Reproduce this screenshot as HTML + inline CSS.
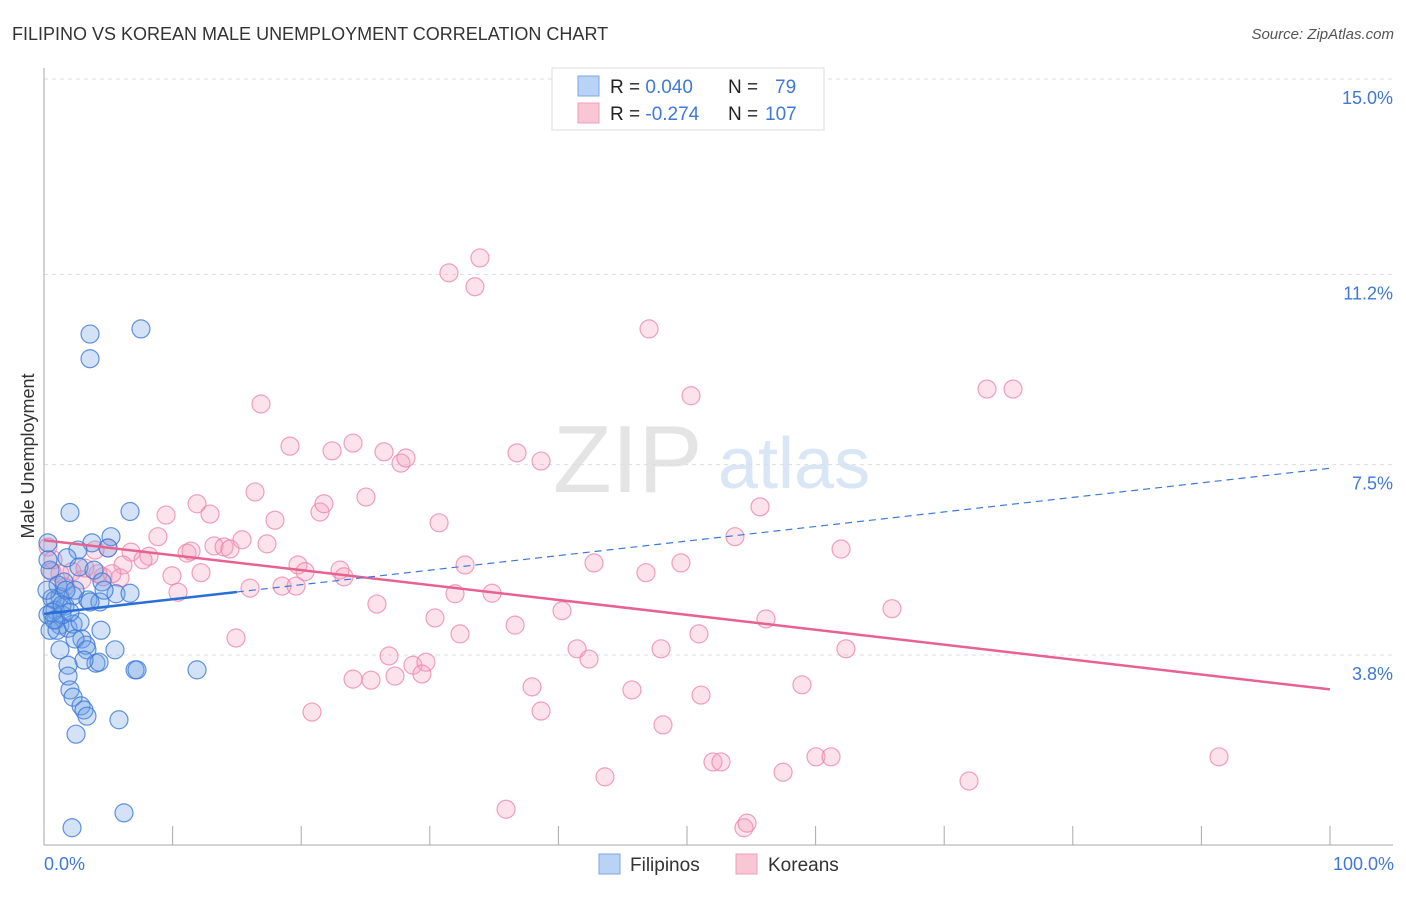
<!DOCTYPE html>
<html><head><meta charset="utf-8"><style>
body{margin:0;background:#fff;font-family:"Liberation Sans",sans-serif;}
svg text{font-family:"Liberation Sans",sans-serif;}
</style></head><body>
<svg id="chart" width="1406" height="892">
<text x="12" y="40" font-size="18" fill="#333">FILIPINO VS KOREAN MALE UNEMPLOYMENT CORRELATION CHART</text>
<text x="1394" y="39" font-size="15" fill="#555" text-anchor="end" font-style="italic">Source: ZipAtlas.com</text>
<g>
<text x="553" y="492" font-size="96" fill="#e4e4e4" font-family="Liberation Serif, serif">ZIP</text>
<text x="718" y="488" font-size="72" fill="#d8e6f6">atlas</text>
</g>
<g id="grid"></g>
<g id="axes"></g>
<g id="marks"></g>
<text transform="translate(34,456) rotate(-90)" font-size="18" fill="#333" text-anchor="middle">Male Unemployment</text>
<text x="44" y="870" font-size="18" fill="#3f78d8">0.0%</text>
<text x="1394" y="870" font-size="18" fill="#3f78d8" text-anchor="end">100.0%</text>
<g>
<rect x="552" y="68" width="272" height="62" fill="#fff" stroke="#ddd"/>
<rect x="578" y="76" width="21" height="20" fill="#b8d3f5" stroke="#7aa8e6"/>
<rect x="578" y="103" width="21" height="20" fill="#f9c6d6" stroke="#ee9cb8"/>
<text x="610" y="93" font-size="19" fill="#222">R = <tspan fill="#3f78d8"> 0.040</tspan><tspan x="728">N = </tspan><tspan x="775" fill="#3f78d8">79</tspan></text>
<text x="610" y="120" font-size="19" fill="#222">R = <tspan fill="#3f78d8">-0.274</tspan><tspan x="728">N = </tspan><tspan x="765" fill="#3f78d8">107</tspan></text>
</g>
<g>
<rect x="599" y="854" width="21" height="20" fill="#b8d3f5" stroke="#7aa8e6"/>
<text x="630" y="871" font-size="19" fill="#333">Filipinos</text>
<rect x="736" y="854" width="21" height="20" fill="#f9c6d6" stroke="#ee9cb8"/>
<text x="768" y="871" font-size="19" fill="#333">Koreans</text>
</g>
</svg>
<script>
const yTicks=[15.0,11.2,7.5,3.8];
const yTickLabels=["15.0%","11.2%","7.5%","3.8%"];
const filX=[3.58,7.54,3.58,2.02,6.69,5.21,3.73,4.98,2.64,1.79,2.72,3.89,0.31,0.47,4.51,5.60,6.69,1.24,2.26,3.42,4.35,0.62,0.86,1.63,0.31,0.93,1.24,1.87,2.26,0.47,2.80,2.95,3.27,4.43,2.41,1.24,3.34,5.52,4.04,4.28,3.11,1.87,1.87,7.08,7.23,11.9,2.02,2.26,2.88,3.11,3.34,5.83,2.49,6.22,2.18,0.86,1.09,1.56,0.23,0.62,1.40,3.58,4.67,0.31,2.41,1.71,1.01,0.78,1.40,2.02];
const filY=[10.04,10.14,9.56,6.57,6.59,6.10,5.98,5.88,5.84,5.69,5.51,5.45,5.98,5.45,5.22,4.99,5.00,4.93,4.95,4.87,4.83,4.90,4.67,4.75,4.58,4.48,4.38,4.32,4.40,4.28,4.44,4.11,3.99,4.28,4.11,3.90,3.90,3.90,3.64,3.66,3.70,3.60,3.39,3.51,3.51,3.51,3.12,2.98,2.81,2.73,2.61,2.54,2.26,0.73,0.44,4.87,5.16,5.22,5.06,4.63,4.58,4.83,5.06,5.65,5.06,5.06,4.28,4.48,4.77,4.63];
const korX=[31.49,33.90,33.51,47.05,50.31,73.33,75.35,16.87,19.13,22.40,24.03,26.44,27.76,28.15,36.78,38.65,16.41,11.90,12.91,9.49,17.96,21.46,21.77,25.04,30.72,55.68,53.73,61.98,8.86,17.34,13.22,14.00,14.46,15.40,11.12,11.43,6.77,8.16,7.70,6.14,4.98,3.97,2.18,2.95,4.59,5.91,5.29,4.20,9.95,12.21,19.75,20.30,23.02,23.33,32.74,42.77,46.81,49.53,16.02,18.51,19.60,10.42,25.89,31.96,34.84,40.28,30.40,36.63,32.35,50.93,56.14,65.94,14.93,41.45,42.38,47.98,62.36,26.83,28.69,29.70,29.39,24.03,25.43,27.29,37.95,45.72,51.09,58.94,20.84,38.65,48.13,52.02,52.64,57.47,60.03,61.20,91.37,43.62,71.93,35.93,54.43,54.67,0.31,0.62,1.24,1.63,3.19,0.70];
const korY=[11.23,11.52,10.96,10.14,8.84,8.97,8.97,8.68,7.86,7.77,7.92,7.75,7.53,7.63,7.73,7.57,6.97,6.74,6.54,6.52,6.42,6.58,6.74,6.87,6.37,6.68,6.10,5.86,6.10,5.96,5.92,5.90,5.86,6.04,5.78,5.82,5.80,5.72,5.65,5.55,5.88,5.84,5.42,5.26,5.32,5.30,5.38,5.38,5.34,5.40,5.55,5.42,5.45,5.32,5.55,5.59,5.40,5.59,5.10,5.14,5.14,5.02,4.79,4.99,5.00,4.66,4.52,4.38,4.21,4.21,4.50,4.70,4.13,3.92,3.72,3.92,3.92,3.78,3.60,3.66,3.43,3.33,3.31,3.39,3.18,3.12,3.02,3.22,2.69,2.71,2.44,1.72,1.72,1.52,1.82,1.82,1.82,1.43,1.35,0.80,0.44,0.53,5.90,5.42,5.38,5.12,5.49,5.65];
const filTrend=[4.6,7.43];
const korTrend=[6.03,3.13];
const NS="http://www.w3.org/2000/svg";
const X=v=>44+v*12.86;
const Y=v=>850.4-v*51.43;
function mk(tag,attrs,parent){const e=document.createElementNS(NS,tag);for(const k in attrs)e.setAttribute(k,attrs[k]);parent.appendChild(e);return e;}
const grid=document.getElementById('grid'),axes=document.getElementById('axes'),marks=document.getElementById('marks');
yTicks.forEach((t,i)=>{
 const l=mk('line',{x1:44,x2:1393,y1:Y(t),y2:Y(t),stroke:'#ddd','stroke-dasharray':'4,4'},grid);
 
 
 const tx=mk('text',{x:1393,y:Y(t)+25,'font-size':18,fill:'#3f78d8','text-anchor':'end'},grid);
 tx.textContent=yTickLabels[i];
 
 
});
const ya=mk('line',{x1:44,x2:44,y1:68,y2:845,stroke:'#aaa'},axes);


const xa=mk('line',{x1:44,x2:1393,y1:845,y2:845,stroke:'#aaa'},axes);


for(let i=1;i<=10;i++){
 const t=mk('line',{x1:X(i*10),x2:X(i*10),y1:826,y2:845,stroke:'#aaa'},axes);
 
 
}
function dots(xs,ys,fill,stroke,name){
 xs.forEach((v,i)=>{
  const c=mk('circle',{cx:X(v),cy:Y(ys[i]),r:9,fill:fill,stroke:stroke,'stroke-width':1.2},marks);
  
  
 });
}
dots(korX,korY,'rgba(244,160,190,0.3)','rgba(236,130,170,0.75)','korean-point');
dots(filX,filY,'rgba(110,160,230,0.3)','rgba(60,120,215,0.8)','filipino-point');
const kt=mk('line',{x1:X(0),y1:Y(korTrend[0]),x2:X(100),y2:Y(korTrend[1]),stroke:'#e8628f','stroke-width':2.5},marks);


const fs=(filTrend[1]-filTrend[0])/100;
const ftd=mk('line',{x1:X(15),y1:Y(filTrend[0]+fs*15),x2:X(100),y2:Y(filTrend[1]),stroke:'#3f78d8','stroke-width':1.2,'stroke-dasharray':'7,5'},marks);


const ft=mk('line',{x1:X(0),y1:Y(filTrend[0]),x2:X(15),y2:Y(filTrend[0]+fs*15),stroke:'#2a6fd6','stroke-width':2.5},marks);


</script>
</body></html>
